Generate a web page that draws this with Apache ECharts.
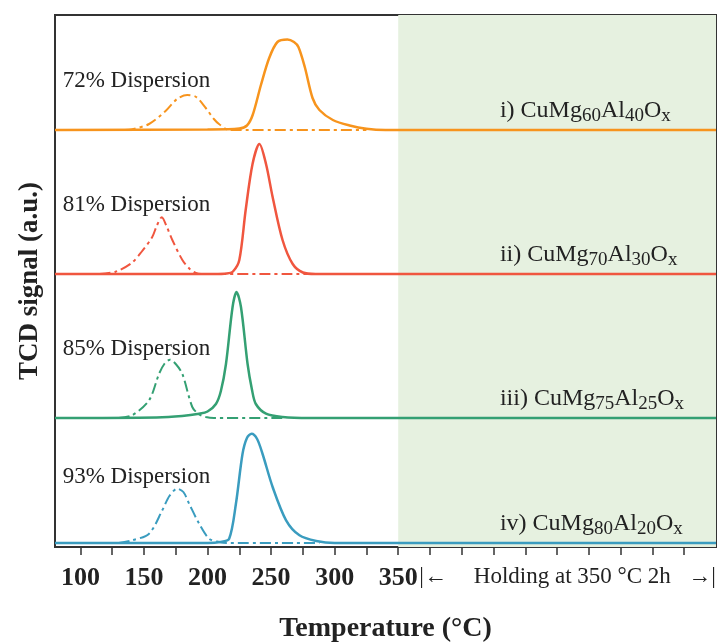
<!DOCTYPE html>
<html><head><meta charset="utf-8">
<script src="https://cdn.jsdelivr.net/npm/echarts@6/dist/echarts.min.js"></script>
<style>html,body{margin:0;padding:0;background:#fff}#c{width:717px;height:642px}</style>
</head><body><div id="c"></div>
<script>
// ---- data ----
const sampleRoman = ['i)', 'ii)', 'iii)', 'iv)'];
const mgContent = [60, 70, 75, 80];
const alContent = [40, 30, 25, 20];
const dispersionLabels = ['72% Dispersion', '81% Dispersion', '85% Dispersion', '93% Dispersion'];
const seriesColors = ['#f7941d', '#f0563f', '#34a073', '#3a9cbf'];
// vertical offset (a.u.) of each stacked trace
const offsets = [417, 273, 129, 4];

// solid traces: [temperature °C, TCD signal a.u.]
const solidI = [[80,0],[200,0.5],[225,1.5],[231,4.5],[235.5,15],[242,45],[248.5,72],[255,88],[262.8,90.5],[268,88],[271.5,83],[276.5,63],[282.6,32],[288,20],[298.6,10],[311.8,4.5],[325,1.2],[340,0],[600,0]];
const solidII = [[80,0],[205,0],[215,0.5],[220,2.5],[225,14],[230,64],[235.4,110],[240.8,130],[246,110],[251.2,77],[259,34],[267,10],[275,1.5],[285,0],[600,0]];
const solidIII = [[80,0],[160,0.5],[180,2],[193.4,4.3],[200,6.5],[206.6,14],[210.5,27],[214.5,54],[219.7,111],[222.8,126],[226.3,111],[231.5,54],[235,28],[238,14],[246,4.3],[259,1],[280,0],[600,0]];
const solidIV = [[80,0],[200,0],[210,1],[217,4.3],[222.3,39],[227.5,89],[231,105],[234.7,109.3],[239,104],[243.3,89],[251.2,56],[261.8,22.7],[272.3,7.7],[285.5,2],[300,0],[600,0]];
// dash-dot traces
const dashI = [[135,0],[140,0.5],[154,6],[167,19],[176,31],[184,35],[191,33],[198.6,22],[205,11],[209,6],[217,0],[325,0]];
const dashII = [[115,0],[127.6,2.3],[140,10.7],[148,22],[156.5,37],[160,48],[164,56.7],[168,47],[172.3,34],[180.2,14],[186,5],[190.8,1],[195,0],[288,0]];
const dashIII = [[130,0],[140.7,2.7],[154,17.7],[161.8,44],[166,54],[170.5,58.3],[175,54],[180.2,44],[188,11],[193,4],[198.7,1],[205,0],[262,0]];
const dashIV = [[130,0],[140.7,2.7],[154,9.3],[164.4,32.7],[170,47],[176.2,54.3],[181,51],[185.5,39.3],[193.4,19.3],[201.3,4.3],[209,1],[215,0],[288,0]];

const solidTraces = [solidI, solidII, solidIII, solidIV];
const dashTraces = [dashI, dashII, dashIII, dashIV];

// axis
const xMin = 80, xMax = 600, yMax = 532;
const tickTemps = [100,125,150,175,200,225,250,275,300,325,350,375,400,425,450,475,500,525,550,575];
const tickLabelTemps = [100,150,200,250,300,350];
const holdingStart = 350;
const holdingLabelTemps = [377.5, 487, 589];
const holdingLabelTexts = ['|\u2190', 'Holding at 350 \u00B0C 2h', '\u2192|'];
// annotation anchor positions (temperature, height above each trace baseline)
const dispersionLabelTemp = 86;
const dispersionLabelHeights = [49, 69, 69, 66];
const sampleLabelTemp = 430;
const sampleLabelHeights = [19, 19, 19, 19];

// ---- build chart ----
const serif = '"Liberation Serif", "Times New Roman", serif';
const series = [];
solidTraces.forEach((tr, i) => {
  const off = offsets[i];
  const s = {
    type: 'line', name: 'solid' + i, showSymbol: false, smooth: 0.3,
    lineStyle: { color: seriesColors[i], width: 2.5 },
    data: tr.map(p => [p[0], p[1] + off]),
    z: 3,
    markPoint: {
      symbol: 'circle', symbolSize: 0, silent: true,
      label: { show: true, position: 'right', distance: 0, align: 'left', color: '#222', fontFamily: serif },
      data: [
        { coord: [dispersionLabelTemp, off + dispersionLabelHeights[i]],
          label: { formatter: dispersionLabels[i], fontSize: 23 } },
        { coord: [sampleLabelTemp, off + sampleLabelHeights[i]],
          label: {
            formatter: '{n|' + sampleRoman[i] + ' CuMg}{s|' + mgContent[i] + '}{n|Al}{s|' + alContent[i] + '}{n|O}{s|x}',
            rich: {
              n: { fontSize: 24, fontFamily: serif, color: '#222', lineHeight: 30 },
              s: { fontSize: 19, fontFamily: serif, color: '#222', lineHeight: 17, verticalAlign: 'bottom' }
            }
          } }
      ]
    }
  };
  if (i === 0) {
    s.markArea = {
      silent: true,
      itemStyle: { color: '#e6f1e0' },
      data: [[{ xAxis: holdingStart }, { xAxis: xMax }]]
    };
  }
  series.push(s);
});
dashTraces.forEach((tr, i) => {
  const off = offsets[i];
  series.push({
    type: 'line', name: 'dash' + i, showSymbol: false, smooth: 0.3,
    lineStyle: { color: seriesColors[i], width: 2, type: [11, 4, 3, 4] },
    data: tr.map(p => [p[0], p[1] + off]),
    z: 2
  });
});

const chart = echarts.init(document.getElementById('c'), null, { renderer: 'canvas' });
chart.setOption({
  animation: false,
  backgroundColor: '#fff',
  grid: { left: 55, right: 1, top: 15, bottom: 95, containLabel: false, outerBoundsMode: 'none',
          show: true, borderColor: '#333', borderWidth: 2, backgroundColor: 'transparent' },
  xAxis: {
    type: 'value', min: xMin, max: xMax,
    name: 'Temperature (\u00B0C)', nameLocation: 'middle', nameGap: 68,
    nameTextStyle: { fontFamily: serif, fontWeight: 'bold', fontSize: 28, color: '#222' },
    axisLine: { show: true, lineStyle: { color: '#333', width: 2 } },
    axisTick: { show: true, length: 8, inside: false, lineStyle: { color: '#333', width: 1.5 }, customValues: tickTemps },
    axisLabel: {
      show: true, margin: 18,
      customValues: tickLabelTemps.concat(holdingLabelTemps),
      formatter: function (v) {
        const k = holdingLabelTemps.indexOf(v);
        if (k >= 0) return '{h|' + holdingLabelTexts[k] + '}';
        return '{b|' + v + '}';
      },
      rich: {
        b: { fontFamily: serif, fontWeight: 'bold', fontSize: 26, color: '#222' },
        h: { fontFamily: serif, fontSize: 23, color: '#222' }
      }
    },
    splitLine: { show: false }
  },
  yAxis: {
    type: 'value', min: 0, max: yMax,
    name: 'TCD signal (a.u.)', nameLocation: 'middle', nameGap: 11, nameRotate: 90,
    nameTextStyle: { fontFamily: serif, fontWeight: 'bold', fontSize: 27, color: '#222' },
    axisLine: { show: true, lineStyle: { color: '#333', width: 2 } },
    axisTick: { show: false }, axisLabel: { show: false }, splitLine: { show: false }
  },
  series: series
});
</script>
</body></html>
